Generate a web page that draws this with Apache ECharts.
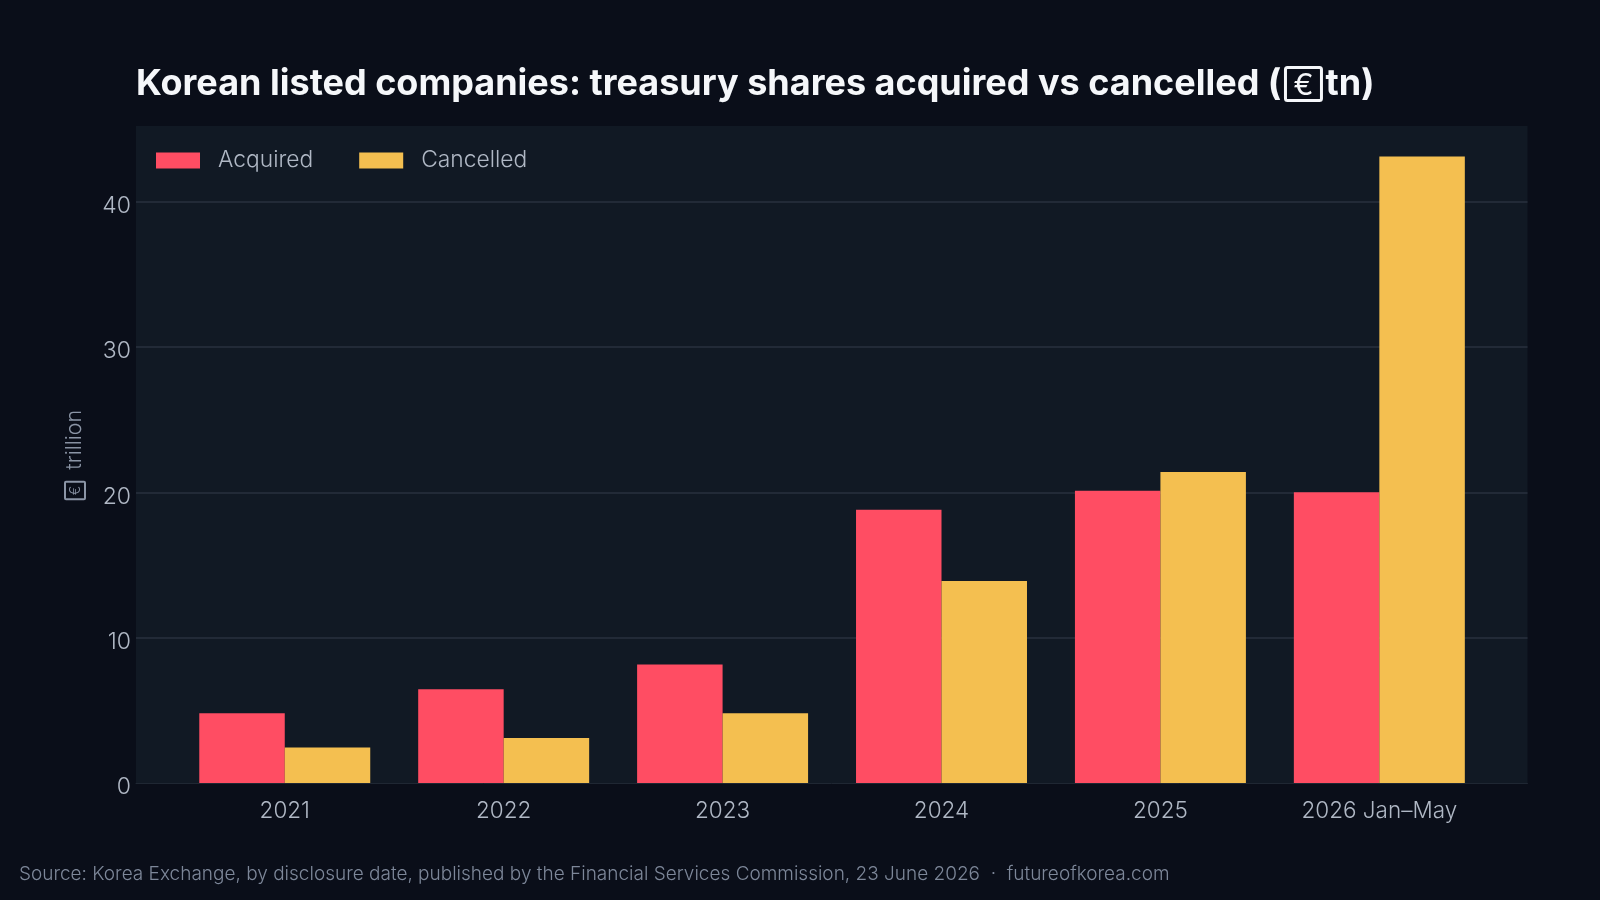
<!DOCTYPE html>
<html><head><meta charset="utf-8">
<style>html,body{margin:0;padding:0;background:#0a0e19}#c{width:1600px;height:900px}</style>
<script src="https://cdn.jsdelivr.net/npm/echarts@6/dist/echarts.min.js"></script>
</head><body><div id="c"></div>
<script>
const categories = ['2021','2022','2023','2024','2025','2026 Jan–May'];
const acquired = [4.8,6.45,8.15,18.8,20.1,20.0];
const cancelled = [2.45,3.1,4.8,13.9,21.4,43.1];
const yTicks = [0,10,20,30,40];
const FONT = 'Inter, "Noto Sans", sans-serif';
const LABEL = '#b0b8c5', MUTED = '#7d8799';
const chart = echarts.init(document.getElementById('c'),null,{renderer:'canvas'});
const yBase = {type:'value',min:0,max:45.2,axisLine:{show:false},axisTick:{show:false}};
chart.setOption({
  backgroundColor:'#0a0e19',
  animation:false,
  title:[
    {left:136,top:66,padding:0,text:'Korean listed companies: treasury shares acquired vs cancelled ({s| }{b|€}{s| }tn)',
     textStyle:{color:'#f5f7fa',fontFamily:FONT,fontWeight:700,fontSize:36,
       rich:{s:{fontSize:17},b:{color:'#f5f7fa',fontFamily:FONT,borderColor:'#f5f7fa',borderWidth:3,borderRadius:2,fontSize:30,fontWeight:400,padding:[3,8,0,8]}}}},
    {left:19,top:865,padding:0,text:'Source: Korea Exchange, by disclosure date, published by the Financial Services Commission, 23 June 2026  ·  futureofkorea.com',
     textStyle:{color:MUTED,fontFamily:FONT,fontWeight:300,fontSize:19}}
  ],
  legend:{left:156,top:149,padding:0,itemWidth:44,itemHeight:16,itemGap:46,icon:'rect',
    textStyle:{color:LABEL,fontFamily:FONT,fontWeight:300,fontSize:22.8,padding:[0,0,0,13]},
    data:['Acquired','Cancelled']},
  grid:[
    {left:136,right:72.5,top:126,bottom:117,backgroundColor:'#111924',show:true,borderWidth:0},
    {left:175.3,right:111.2,top:126,bottom:117}
  ],
  xAxis:[
    {gridIndex:0,type:'category',data:[],axisLine:{show:true,lineStyle:{color:'#1f2733',width:1}},axisTick:{show:false},axisLabel:{show:false}},
    {gridIndex:1,type:'category',data:categories,axisLine:{show:false},axisTick:{show:false},
     axisLabel:{color:LABEL,fontFamily:FONT,fontWeight:300,fontSize:22.5,margin:17}}
  ],
  yAxis:[
    {...yBase,gridIndex:0,interval:10,
     splitLine:{show:true,showMaxLine:false,showMinLine:false,lineStyle:{color:'#222a37',width:2}},
     axisLabel:{formatter:'{n|{value}}',margin:5,showMinLabel:true,showMaxLabel:true,customValues:yTicks,
       rich:{n:{color:LABEL,fontFamily:FONT,fontWeight:300,fontSize:23,padding:[9,0,0,0]}}},
     name:'{b|€}  trillion',nameLocation:'middle',nameRotate:90,nameGap:50,
     nameTextStyle:{color:'#8b95a6',fontFamily:FONT,fontWeight:300,fontSize:21.5,
       rich:{b:{color:'#8b95a6',fontFamily:FONT,borderColor:'#8b95a6',borderWidth:2,borderRadius:1,fontSize:14,padding:[4,4,2,4]}}}},
    {...yBase,gridIndex:1,splitLine:{show:false},axisLabel:{show:false}}
  ],
  series:[
    {name:'Acquired',type:'bar',xAxisIndex:1,yAxisIndex:1,data:acquired,barGap:0,barCategoryGap:'21.9%',itemStyle:{color:'#ff4d63'}},
    {name:'Cancelled',type:'bar',xAxisIndex:1,yAxisIndex:1,data:cancelled,itemStyle:{color:'#f4bf50'}}
  ]
});
</script></body></html>
